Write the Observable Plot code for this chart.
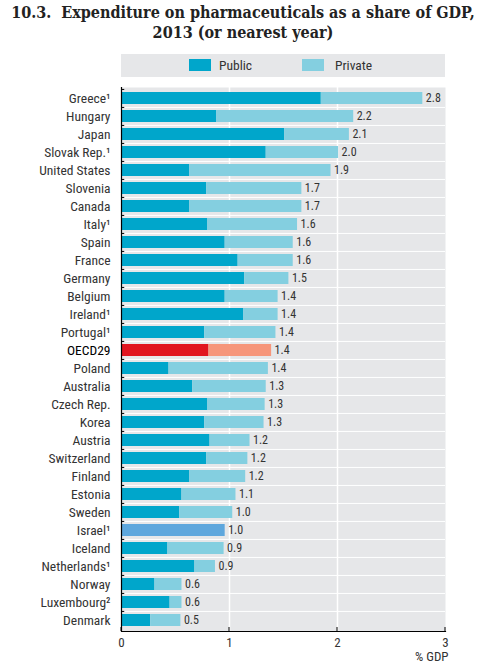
<!DOCTYPE html>
<html><head><meta charset="utf-8">
<script src="https://cdn.jsdelivr.net/npm/d3@7"></script>
<script src="https://cdn.jsdelivr.net/npm/@observablehq/plot@0.6"></script>
<style>
body{margin:0;background:#fff;}
#wrap{position:relative;width:495px;height:668px;overflow:hidden;}
#title{position:absolute;left:0;top:3px;width:486px;text-align:center;font-family:"DejaVu Serif Condensed","DejaVu Serif",serif;font-weight:bold;font-size:16px;line-height:20px;color:#222;}
#legend{position:absolute;left:121px;top:54px;width:324px;height:23px;background:#e6e7e9;font-family:"Liberation Sans Narrow","Roboto Condensed","Liberation Sans",sans-serif;font-size:13.5px;color:#333;}
.sw{position:absolute;top:5px;width:22px;height:12px;}
.lt{position:absolute;top:3px;}
#chart{position:absolute;left:0;top:80px;}
</style></head>
<body><div id="wrap">
<div id="title">10.3.&nbsp; Expenditure on pharmaceuticals as a share of GDP,<br>2013 (or nearest year)</div>
<div id="legend">
<div class="sw" style="left:68px;background:#00a6cb"></div><div class="lt" style="left:98px">Public</div>
<div class="sw" style="left:181px;background:#84cfe0"></div><div class="lt" style="left:214px">Private</div>
</div>
<div id="chart"></div>
</div>
<script>
const countries = ["Greece¹","Hungary","Japan","Slovak Rep.¹","United States","Slovenia","Canada","Italy¹","Spain","France","Germany","Belgium","Ireland¹","Portugal¹","OECD29","Poland","Australia","Czech Rep.","Korea","Austria","Switzerland","Finland","Estonia","Sweden","Israel¹","Iceland","Netherlands¹","Norway","Luxembourg²","Denmark"];
const publicVals = [1.85,0.88,1.51,1.34,0.63,0.79,0.63,0.80,0.96,1.08,1.14,0.96,1.13,0.77,0.81,0.44,0.66,0.80,0.77,0.82,0.79,0.63,0.56,0.54,null,0.43,0.68,0.31,0.45,0.27];
const totalVals = [2.79,2.15,2.11,2.01,1.94,1.67,1.67,1.63,1.59,1.59,1.55,1.45,1.45,1.43,1.39,1.36,1.34,1.33,1.32,1.19,1.17,1.15,1.06,1.03,0.96,0.95,0.87,0.56,0.56,0.55];
const valueLabels = ["2.8","2.2","2.1","2.0","1.9","1.7","1.7","1.6","1.6","1.6","1.5","1.4","1.4","1.4","1.4","1.4","1.3","1.3","1.3","1.2","1.2","1.2","1.1","1.0","1.0","0.9","0.9","0.6","0.6","0.5"];
const xTicks = [0,1,2,3];

const rows = countries.map((c,i)=>({country:c, pub:publicVals[i], total:totalVals[i], label:valueLabels[i]}));
const W=495, H=588, mT=7, mB=37, mL=121, mR=50;
const step=(H-mT-mB)/countries.length;
const font='"Liberation Sans Narrow","Roboto Condensed","Liberation Sans",sans-serif';
const isO = d=>d.country==="OECD29";

const chart = Plot.plot({
  width:W, height:H, marginTop:mT, marginBottom:mB, marginLeft:mL, marginRight:mR,
  style:{fontFamily:font, background:"transparent"},
  x:{domain:[0,3], axis:null},
  y:{domain:countries, paddingInner:0.35, paddingOuter:0.175, axis:null},
  marks:[
    Plot.frame({fill:"#e6e7e9", stroke:"none"}),
    Plot.ruleX([1,2], {stroke:"white", strokeWidth:1.5}),
    Plot.ruleY(countries.slice(1), {y:d=>d, dy:-step/2, stroke:"white", strokeWidth:1}),
    Plot.barX(rows.filter(d=>d.pub!=null), {y:"country", x1:0, x2:"pub", fill:d=>isO(d)?"#e1151f":"#00a6cb"}),
    Plot.barX(rows.filter(d=>d.pub!=null), {y:"country", x1:"pub", x2:"total", fill:d=>isO(d)?"#f6967b":"#84cfe0"}),
    Plot.barX(rows.filter(d=>d.pub==null), {y:"country", x1:0, x2:"total", fill:"#5ea7dd"}),
    Plot.text(rows, {y:"country", x:"total", text:"label", textAnchor:"start", dx:3, fontSize:12, fill:"#333", fontWeight:d=>isO(d)?"bold":"normal"}),
    Plot.text(rows, {y:"country", x:0, text:"country", textAnchor:"end", dx:-11, fontSize:13.5, fill:d=>isO(d)?"#000":"#333", fontWeight:d=>isO(d)?"bold":"normal"}),
    Plot.ruleY(countries, {y:d=>d, dy:-step/2, x1:0, x2:0.03, stroke:"#000"}),
    Plot.ruleX([0], {stroke:"#000", strokeWidth:1.2}),
    Plot.frame({anchor:"bottom", stroke:"#000", strokeWidth:1.2}),
    (index, scales, values, dims) => {
      const g = d3.create("svg:g");
      const yb = dims.height - dims.marginBottom;
      for (const t of xTicks) {
        const x = scales.x(t);
        g.append("line").attr("x1",x).attr("x2",x).attr("y1",yb-4).attr("y2",yb).attr("stroke","#000");
      }
      return g.node();
    },
    Plot.axisX({ticks:xTicks, tickSize:0, tickPadding:6, fontSize:13, label:null, tickFormat:d=>String(d), color:"#333"}),
    Plot.text(["% GDP"], {frameAnchor:"bottom-right", text:d=>d, dy:29, dx:3, textAnchor:"end", fontSize:13, fill:"#333"})
  ]
});
document.getElementById("chart").append(chart);
</script>
</body></html>
